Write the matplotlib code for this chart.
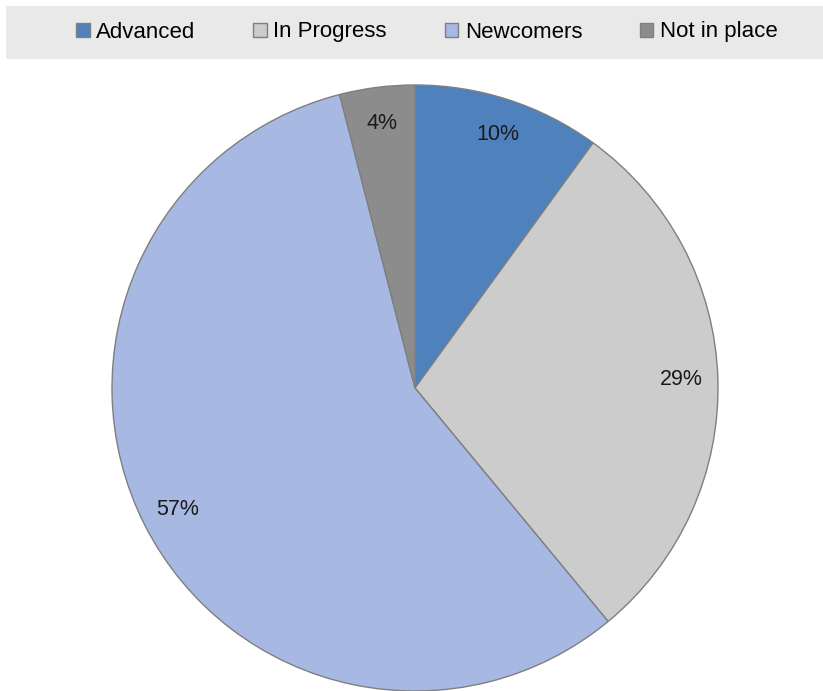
import matplotlib.pyplot as plt
from matplotlib.patches import Rectangle

plt.rcParams['font.family'] = ['Liberation Sans', 'DejaVu Sans']

categories = ["Advanced", "In Progress", "Newcomers", "Not in place"]
shares = [10, 29, 57, 4]
colors = ["#4F81BD", "#CCCCCC", "#A7B9E3", "#8C8C8C"]

fig = plt.figure(figsize=(8.23, 6.91), dpi=100)

# grey band behind the legend
fig.patches.append(Rectangle((6 / 823, 1 - 59 / 691), 817 / 823, 53 / 691,
                             transform=fig.transFigure, facecolor="#E9E9E9",
                             edgecolor="none", zorder=0))

ax = fig.add_axes([112 / 823, 0, 606 / 823, 606 / 691])
wedges, texts, autotexts = ax.pie(
    shares, colors=colors, startangle=90, counterclock=False,
    autopct="%d%%", pctdistance=0.88,
    wedgeprops=dict(edgecolor="#7F7F7F", linewidth=1),
    textprops=dict(fontsize=15.5, color="#1A1A1A"))
ax.set_xlim(-1, 1)
ax.set_ylim(-1, 1)
ax.set_aspect("equal")

fig.legend(wedges, categories, loc="center", bbox_to_anchor=(427 / 823, 1 - 32 / 691),
           ncol=4, frameon=False, fontsize=16, handlelength=0.6, handleheight=0.6,
           handletextpad=0.3, columnspacing=2.6)

fig.savefig("out.png", dpi=100)
